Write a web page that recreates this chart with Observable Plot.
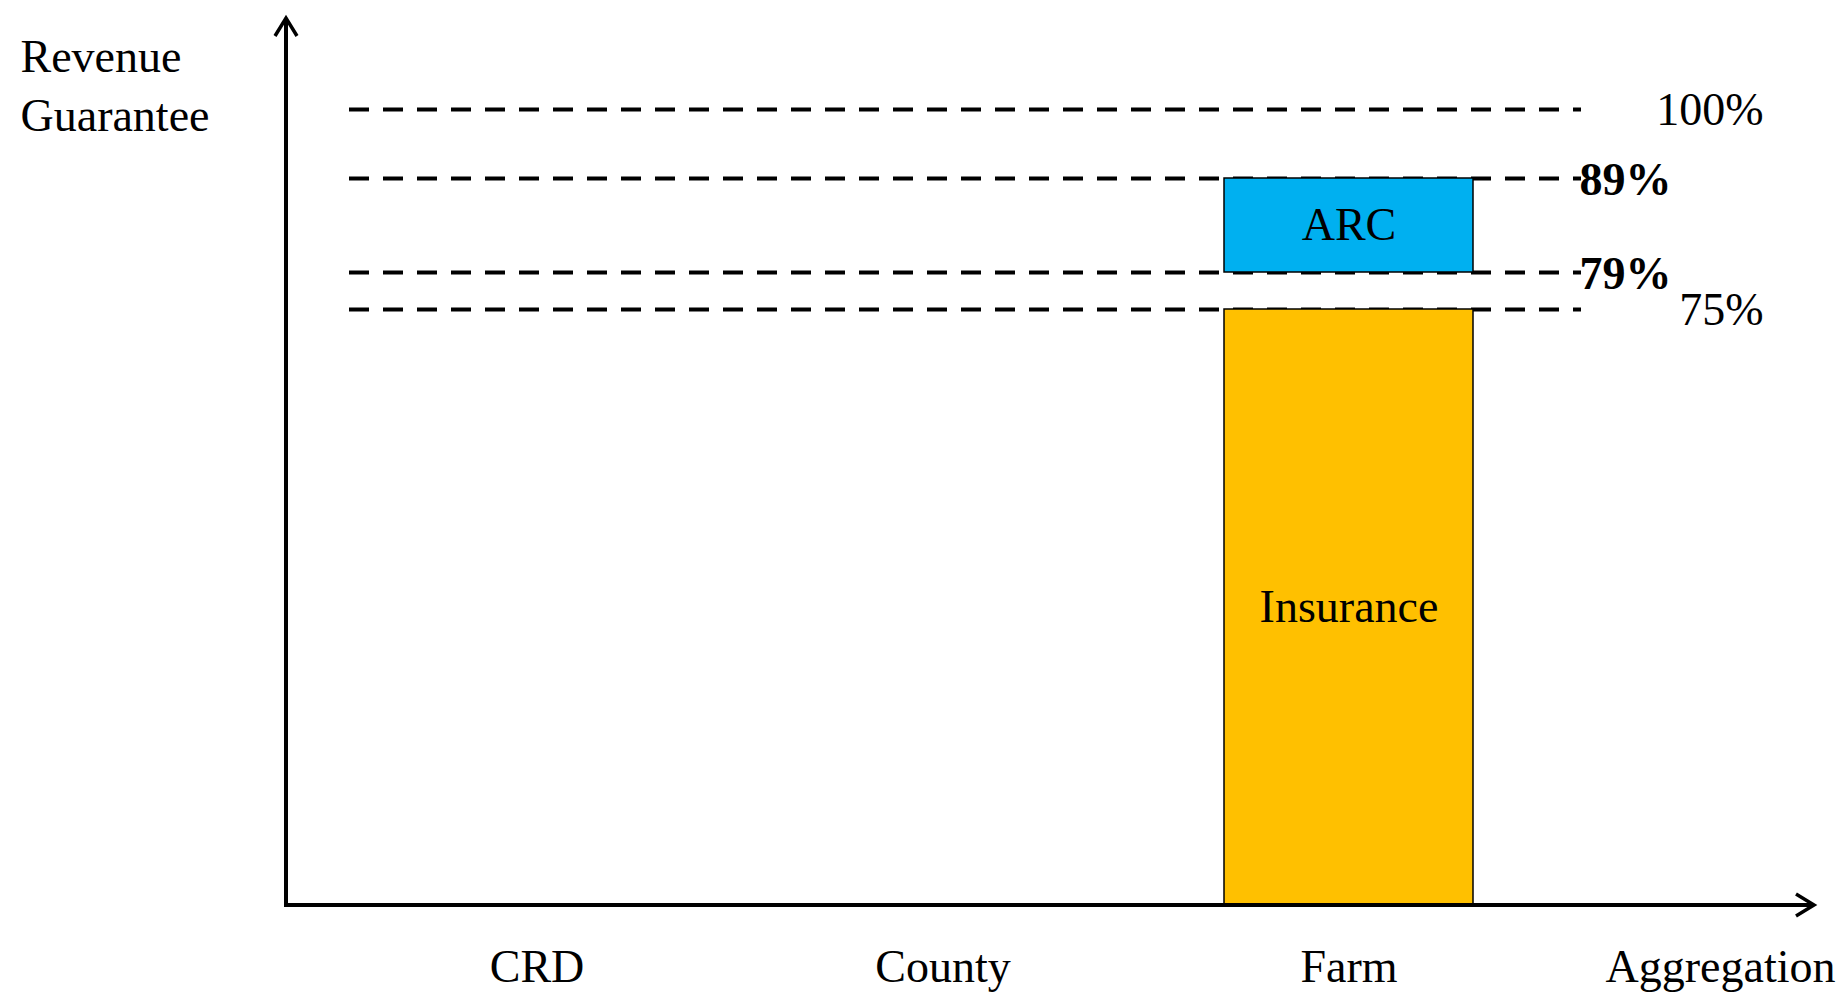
<!DOCTYPE html>
<html>
<head>
<meta charset="utf-8">
<script src="https://cdn.jsdelivr.net/npm/d3@7"></script>
<script src="https://cdn.jsdelivr.net/npm/@observablehq/plot@0.6"></script>
<style>
  html, body { margin: 0; padding: 0; background: #fff; }
  #chart svg { display: block; }
</style>
</head>
<body>
<div id="chart"></div>
<script>
// Aggregation levels along the horizontal axis
const levels = ["CRD", "County", "Farm"];

// Revenue guarantee levels (percent) shown as dashed reference lines
const guaranteeLevels = [100, 89, 79, 75];
const plainLabels = [100, 75];
const boldLabels = [89, 79];

// Coverage layers at the farm level: series, level, from %, to %
const layerSeries = ["Insurance", "ARC"];
const layerLevel = ["Farm", "Farm"];
const layerFrom = [0, 79];
const layerTo = [75, 89];
const layerColors = ["#FFC000", "#00B0F0"];

const layers = layerSeries.map((s, i) => ({
  series: s, level: layerLevel[i], lo: layerFrom[i], hi: layerTo[i]
}));

const serif = "'Liberation Serif', 'Times New Roman', Times, serif";

// Axis lines with open arrowheads, drawn along the plot frame
function axisArrows(index, scales, values, dimensions) {
  const {width, height, marginLeft, marginRight, marginTop, marginBottom} = dimensions;
  const x0 = marginLeft, y0 = height - marginBottom, x1 = width - marginRight, yTop = marginTop;
  const g = d3.create("svg:g")
    .attr("fill", "none")
    .attr("stroke", "#000")
    .attr("stroke-width", 4);
  g.append("path").attr("d", `M${x0},${y0 + 2}V${yTop + 1}`);
  g.append("path").attr("stroke-width", 3.5)
    .attr("d", `M${x0 - 11},${yTop + 19}L${x0},${yTop + 1}L${x0 + 11},${yTop + 19}`);
  g.append("path").attr("d", `M${x0 - 2},${y0}H${x1 - 1}`);
  g.append("path").attr("stroke-width", 3.5)
    .attr("d", `M${x1 - 19},${y0 - 11}L${x1 - 1},${y0}L${x1 - 19},${y0 + 11}`);
  return g.node();
}

const chart = Plot.plot({
  width: 1845,
  height: 995,
  marginLeft: 286,
  marginRight: 30,
  marginTop: 17,
  marginBottom: 90,
  style: {fontSize: "46px", fontFamily: serif, color: "#000", background: "#fff"},
  x: {
    type: "band",
    domain: levels,
    range: [129, 1757],
    paddingInner: 0.3857,
    paddingOuter: 0.6929,
    tickSize: 0,
    tickPadding: 44,
    label: null
  },
  // schematic (piecewise) guarantee axis, not drawn to scale
  y: {
    type: "linear",
    domain: [0, 75, 79, 89, 100],
    range: [905, 309, 272, 178, 109],
    axis: null
  },
  color: {domain: layerSeries, range: layerColors},
  marks: [
    Plot.ruleY(guaranteeLevels, {
      stroke: "#000",
      strokeWidth: 4,
      strokeDasharray: "20,14",
      insetLeft: 63,
      insetRight: 234
    }),
    Plot.barY(layers, {
      x: "level",
      y1: "lo",
      y2: "hi",
      fill: "series",
      stroke: "#000",
      strokeWidth: 1.5
    }),
    Plot.text(layers, {
      x: "level",
      y: d => (d.lo + d.hi) / 2,
      text: "series",
      textAnchor: "middle",
      lineAnchor: "middle",
      fontSize: 46,
      fontFamily: serif,
      fill: "#000"
    }),
    Plot.text(plainLabels, {
      y: d => d,
      text: d => `${d}%`,
      frameAnchor: "right",
      textAnchor: "end",
      dx: -52,
      dy: 1,
      fontSize: 46,
      fontFamily: serif,
      fill: "#000"
    }),
    Plot.text(boldLabels, {
      y: d => d,
      text: d => `${d}%`,
      frameAnchor: "right",
      textAnchor: "start",
      dx: -236,
      dy: 2,
      fontSize: 46,
      fontWeight: "bold",
      fontFamily: serif,
      fill: "#000"
    }),
    Plot.text(["Revenue\nGuarantee"], {
      text: d => d,
      frameAnchor: "top-left",
      textAnchor: "start",
      lineAnchor: "top",
      lineHeight: 1.29,
      dx: -266,
      dy: 12,
      fontSize: 46,
      fontFamily: serif,
      fill: "#000"
    }),
    Plot.text(["Aggregation"], {
      text: d => d,
      frameAnchor: "bottom-right",
      textAnchor: "end",
      lineAnchor: "top",
      dx: 20,
      dy: 44,
      fontSize: 46,
      fontFamily: serif,
      fill: "#000"
    }),
    axisArrows
  ]
});

document.getElementById("chart").appendChild(chart);
</script>
</body>
</html>
